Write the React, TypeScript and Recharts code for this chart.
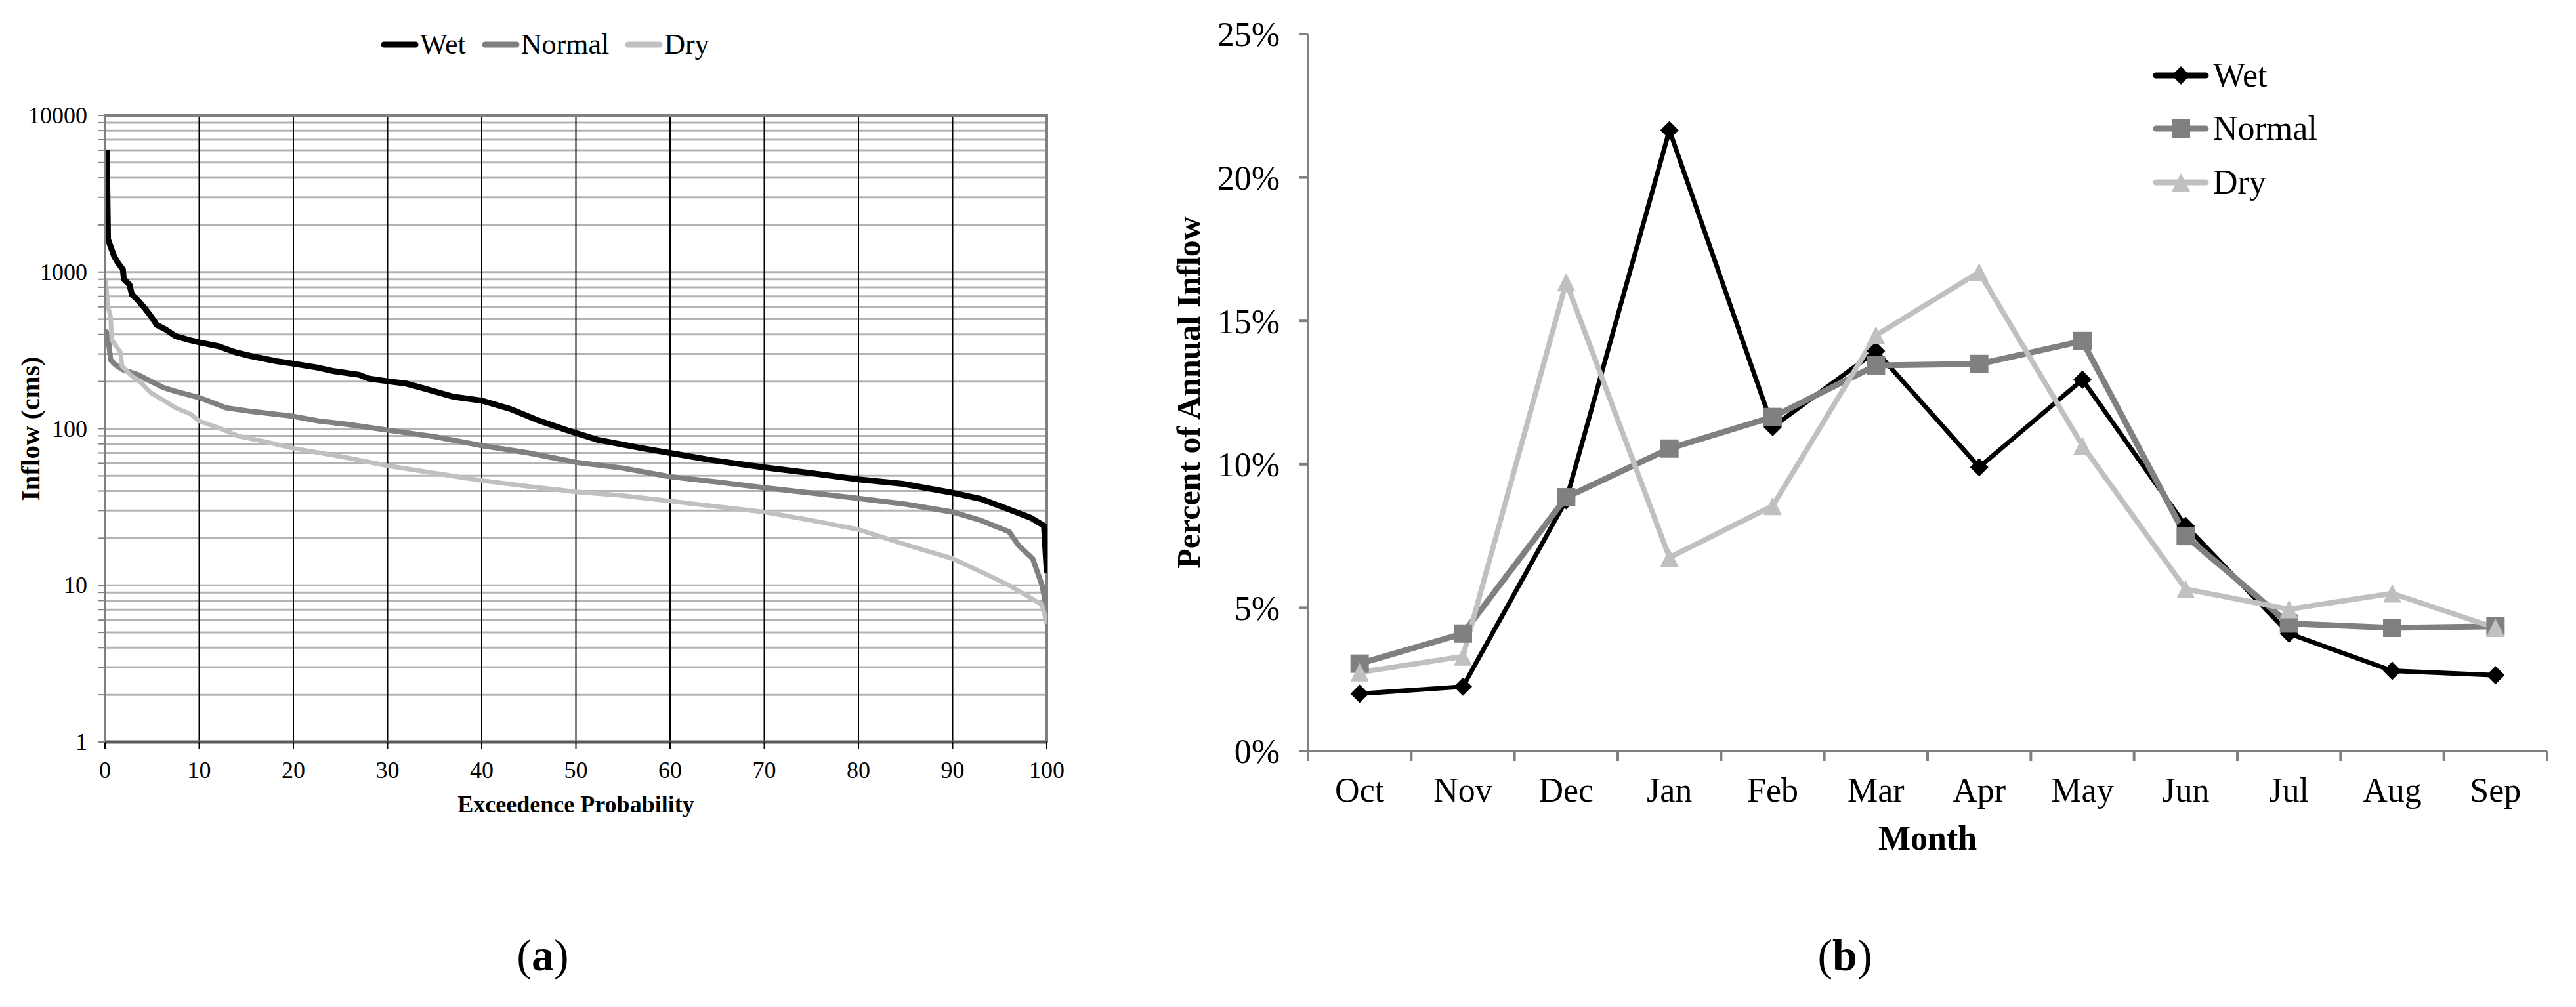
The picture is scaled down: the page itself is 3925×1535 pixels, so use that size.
import React from 'react';
import { LineChart, Line, XAxis, YAxis, CartesianGrid, ReferenceArea, Legend } from 'recharts';

const FONT = "'Liberation Serif', 'Times New Roman', Times, serif";

// ---------- Panel (a): flow duration curves ----------
const exceedTicks = [0, 10, 20, 30, 40, 50, 60, 70, 80, 90, 100];
const inflowTicks = [
  1, 2, 3, 4, 5, 6, 7, 8, 9,
  10, 20, 30, 40, 50, 60, 70, 80, 90,
  100, 200, 300, 400, 500, 600, 700, 800, 900,
  1000, 2000, 3000, 4000, 5000, 6000, 7000, 8000, 9000,
  10000,
];
const inflowLabels = [1, 10, 100, 1000, 10000];

// [exceedence probability, inflow (cms)]
const wetCurve: [number, number][] = [
  [0.19, 6030], [0.32, 1620], [0.6, 1450], [1.0, 1250], [1.4, 1140], [1.9, 1040], [2.0, 900],
  [2.6, 830], [2.85, 720], [3.4, 670], [4.2, 590], [4.85, 525], [5.5, 460], [6.45, 430],
  [7.5, 390], [8.85, 370], [10, 356], [12, 337], [13.9, 307], [15.5, 291], [18.2, 270],
  [20, 260], [22.5, 246], [24.3, 233], [27, 221], [28, 209], [30, 201], [32, 194], [34, 180],
  [37, 160], [40, 151], [43, 134], [46, 113], [49, 98], [52.3, 85], [56.8, 75.5], [60, 70],
  [64.4, 63], [70, 56.6], [75, 52], [80, 47.5], [84.7, 44.5], [90, 39], [93, 35.6], [96, 30.5],
  [98.3, 27], [99.7, 24], [100, 12],
];
const normalCurve: [number, number][] = [
  [0.05, 429], [0.32, 384], [0.6, 275], [1.1, 256], [1.9, 238], [3.5, 221], [4.85, 201],
  [6.2, 183], [7.5, 173], [10, 158], [11.8, 144], [12.85, 136], [15.5, 129], [20, 120],
  [22.7, 112], [26.1, 106], [30, 98], [35, 89], [40, 78], [45, 70], [50, 61], [55, 56],
  [60, 49.4], [65, 45.7], [70, 42], [75, 38.9], [80, 35.9], [85, 33], [90, 29.4], [93, 26],
  [96, 22], [97, 18], [98.5, 14.8], [99.5, 10], [100, 7],
];
const dryCurve: [number, number][] = [
  [0.05, 915], [0.32, 600], [0.6, 516], [0.72, 370], [1.65, 307], [1.8, 251], [2.7, 221],
  [3.8, 197], [4.85, 170], [6.2, 152], [7.5, 136], [9.1, 124], [10, 112], [12.3, 100],
  [14.2, 89.5], [16.9, 83], [20, 75], [25, 66.5], [30, 58], [35, 52], [40, 46.7], [45, 42.8],
  [50, 39.5], [55, 37.4], [60, 34.5], [65, 31.8], [70, 29.4], [75, 26], [80, 22.7], [85, 18.2],
  [90, 14.8], [93, 12.2], [96, 10], [98, 8.5], [99.5, 7.5], [100, 5.7],
];

// ---------- Panel (b): monthly distribution ----------
const months = ['Oct', 'Nov', 'Dec', 'Jan', 'Feb', 'Mar', 'Apr', 'May', 'Jun', 'Jul', 'Aug', 'Sep'];
const wetPct = [2.0, 2.25, 8.75, 21.65, 11.3, 13.95, 9.9, 12.95, 7.85, 4.1, 2.8, 2.65];
const normalPct = [3.05, 4.1, 8.85, 10.55, 11.65, 13.45, 13.5, 14.3, 7.5, 4.45, 4.3, 4.35];
const dryPct = [2.75, 3.3, 16.35, 6.75, 8.55, 14.5, 16.7, 10.65, 5.65, 4.95, 5.5, 4.3];
const pctTicks = [0, 5, 10, 15, 20, 25];
const monthBounds = [0, 1, 2, 3, 4, 5, 6, 7, 8, 9, 10, 11, 12];

const seriesNames = ['Wet', 'Normal', 'Dry'];
const COLORS: Record<string, string> = { Wet: '#000000', Normal: '#808080', Dry: '#c0c0c0' };

const toPoints = (arr: [number, number][]) => arr.map(([p, q]) => ({ p, q }));
const wetPts = toPoints(wetCurve);
const normalPts = toPoints(normalCurve);
const dryPts = toPoints(dryCurve);

const seasonalData = months.map((m, i) => ({
  slot: i + 0.5,
  month: m,
  wet: wetPct[i],
  normal: normalPct[i],
  dry: dryPct[i],
}));

// ---------- layout constants ----------
const A_W = 1700;
const A_H = 1300;
const B_W = 2225;
const B_H = 1535;
const B_YAXIS_W = 293;
const B_MARGIN_R = 44;
const B_BAND = (B_W - B_YAXIS_W - B_MARGIN_R) / months.length;

const LogTick = (props: any) => {
  const { x, y, payload } = props;
  if (!inflowLabels.includes(payload.value)) return <g />;
  return (
    <text x={x} y={y} dy="0.34em" textAnchor="end" fontSize={36} fontFamily={FONT} fill="#000">
      {payload.value}
    </text>
  );
};

const MonthTick = (props: any) => {
  const { x, y, payload } = props;
  const idx = payload.value;
  if (idx >= months.length) return <g />;
  return (
    <text x={x + B_BAND / 2} y={y} dy={62} textAnchor="middle" fontSize={52} fontFamily={FONT} fill="#000">
      {months[idx]}
    </text>
  );
};

const Diamond = (props: any) => {
  const { cx, cy, fill } = props;
  if (cx == null || cy == null) return <g />;
  const r = 14;
  return <path d={`M${cx},${cy - r}L${cx + r},${cy}L${cx},${cy + r}L${cx - r},${cy}Z`} fill={fill} />;
};
const Square = (props: any) => {
  const { cx, cy, fill } = props;
  if (cx == null || cy == null) return <g />;
  const s = 14;
  return <rect x={cx - s} y={cy - s} width={2 * s} height={2 * s} fill={fill} />;
};
const Triangle = (props: any) => {
  const { cx, cy, fill } = props;
  if (cx == null || cy == null) return <g />;
  const h = 14;
  return <path d={`M${cx},${cy - h}L${cx + h},${cy + h}L${cx - h},${cy + h}Z`} fill={fill} />;
};

const MARKERS: Record<string, any> = { Wet: Diamond, Normal: Square, Dry: Triangle };

const orderPayload = (payload: any[]) =>
  seriesNames
    .map((n) => payload.find((e: any) => e.value === n))
    .filter((e: any) => e != null);

const LegendA = (props: any) => {
  const payload = orderPayload(props.payload || []);
  return (
    <div style={{ display: 'flex', alignItems: 'center', fontFamily: FONT, fontSize: 44, color: '#000' }}>
      {payload.map((e: any) => (
        <div key={e.value} style={{ display: 'flex', alignItems: 'center', marginRight: 24 }}>
          <svg width={58} height={14} style={{ display: 'block' }}>
            <line x1={5} y1={7} x2={53} y2={7} stroke={COLORS[e.value]} strokeWidth={9} strokeLinecap="round" />
          </svg>
          <span style={{ marginLeft: 2, lineHeight: 1 }}>{e.value}</span>
        </div>
      ))}
    </div>
  );
};

const LegendB = (props: any) => {
  const payload = orderPayload(props.payload || []);
  return (
    <div style={{ fontFamily: FONT, fontSize: 52, color: '#000' }}>
      {payload.map((e: any) => {
        const M = MARKERS[e.value];
        const c = COLORS[e.value];
        return (
          <div key={e.value} style={{ display: 'flex', alignItems: 'center', height: 81.5 }}>
            <svg width={86} height={40} style={{ display: 'block' }}>
              <line x1={5} y1={20} x2={81} y2={20} stroke={c} strokeWidth={9} strokeLinecap="round" />
              <M cx={43} cy={20} fill={c} />
            </svg>
            <span style={{ marginLeft: 6, lineHeight: 1 }}>{e.value}</span>
          </div>
        );
      })}
    </div>
  );
};

const yTitleA = (props: any) => {
  const vb = props.viewBox || { x: 0, y: 176, width: 160, height: 955 };
  const cx = vb.x + 46;
  const cy = vb.y + vb.height / 2;
  return (
    <text
      transform={`translate(${cx},${cy}) rotate(-90)`}
      textAnchor="middle"
      dy="0.35em"
      fontSize={41}
      fontWeight="bold"
      fontFamily={FONT}
      fill="#000"
    >
      Inflow (cms)
    </text>
  );
};

const yTitleB = (props: any) => {
  const vb = props.viewBox || { x: 0, y: 52, width: B_YAXIS_W, height: 1093 };
  const cx = vb.x + 110;
  const cy = vb.y + vb.height / 2;
  return (
    <text
      transform={`translate(${cx},${cy}) rotate(-90)`}
      textAnchor="middle"
      dy="0.35em"
      fontSize={50}
      fontWeight="bold"
      fontFamily={FONT}
      fill="#000"
    >
      Percent of Annual Inflow
    </text>
  );
};

const dotFor = (Shape: any, color: string, prefix: string) => (props: any) => (
  <Shape key={`${prefix}-${props.index}`} cx={props.cx} cy={props.cy} fill={color} />
);

export default function App() {
  return (
    <div
      style={{
        position: 'absolute',
        left: 0,
        top: 0,
        width: 3925,
        height: 1535,
        background: '#fff',
        overflow: 'hidden',
        fontFamily: FONT,
      }}
    >
      <div style={{ position: 'absolute', left: 0, top: 0 }}>
        <LineChart width={A_W} height={A_H} margin={{ top: 176, right: 105, bottom: 62, left: 0 }}>
          <CartesianGrid vertical={false} stroke="#b3b3b3" strokeWidth={3} />
          <CartesianGrid horizontal={false} stroke="#000" strokeWidth={2} />
          <XAxis
            type="number"
            dataKey="p"
            domain={[0, 100]}
            ticks={exceedTicks}
            interval={0}
            allowDataOverflow
            height={107}
            tickSize={11}
            tickMargin={18}
            tickLine={{ stroke: '#000', strokeWidth: 2 }}
            axisLine={{ stroke: '#5a5a5a', strokeWidth: 5 }}
            tick={{ fontSize: 36, fill: '#000', fontFamily: FONT }}
            label={{
              value: 'Exceedence Probability',
              position: 'insideBottom',
              offset: 0,
              fontSize: 36,
              fontWeight: 'bold',
              fill: '#000',
              fontFamily: FONT,
            }}
          />
          <YAxis
            type="number"
            scale="log"
            domain={[1, 10000]}
            ticks={inflowTicks}
            interval={0}
            allowDataOverflow
            width={160}
            tickSize={11}
            tickMargin={16}
            tickLine={{ stroke: '#808080', strokeWidth: 2 }}
            axisLine={{ stroke: '#808080', strokeWidth: 4 }}
            tick={<LogTick />}
            label={yTitleA}
          />
          <ReferenceArea
            x1={0}
            x2={100}
            y1={1}
            y2={10000}
            fill="none"
            stroke="#808080"
            strokeWidth={4}
            ifOverflow="visible"
          />
          <Line data={wetPts} dataKey="q" name="Wet" stroke={COLORS.Wet} strokeWidth={9} dot={false} activeDot={false} isAnimationActive={false} />
          <Line data={normalPts} dataKey="q" name="Normal" stroke={COLORS.Normal} strokeWidth={8} dot={false} activeDot={false} isAnimationActive={false} />
          <Line data={dryPts} dataKey="q" name="Dry" stroke={COLORS.Dry} strokeWidth={7} dot={false} activeDot={false} isAnimationActive={false} />
          <Legend
            layout="horizontal"
            verticalAlign="middle"
            align="center"
            content={<LegendA />}
            wrapperStyle={{ left: 580, top: 46, width: 700, height: 48 }}
          />
        </LineChart>
      </div>

      <div style={{ position: 'absolute', left: 3925 - B_W, top: 0 }}>
        <LineChart
          width={B_W}
          height={B_H}
          data={seasonalData}
          margin={{ top: 52, right: B_MARGIN_R, bottom: 240, left: 0 }}
        >
          <XAxis
            type="number"
            dataKey="slot"
            domain={[0, 12]}
            ticks={monthBounds}
            interval={0}
            allowDataOverflow
            height={150}
            tickSize={15}
            tickMargin={0}
            tickLine={{ stroke: '#808080', strokeWidth: 4 }}
            axisLine={{ stroke: '#808080', strokeWidth: 4 }}
            tick={<MonthTick />}
            label={{
              value: 'Month',
              position: 'insideBottom',
              offset: 0,
              fontSize: 52,
              fontWeight: 'bold',
              fill: '#000',
              fontFamily: FONT,
            }}
          />
          <YAxis
            type="number"
            domain={[0, 25]}
            ticks={pctTicks}
            interval={0}
            allowDataOverflow
            width={B_YAXIS_W}
            tickSize={14}
            tickMargin={29}
            tickLine={{ stroke: '#808080', strokeWidth: 4 }}
            axisLine={{ stroke: '#808080', strokeWidth: 4 }}
            tickFormatter={(v: number) => `${v}%`}
            tick={{ fontSize: 52, fill: '#000', fontFamily: FONT }}
            label={yTitleB}
          />
          <Line
            dataKey="wet"
            name="Wet"
            stroke={COLORS.Wet}
            strokeWidth={7}
            dot={dotFor(Diamond, COLORS.Wet, 'w')}
            activeDot={false}
            isAnimationActive={false}
          />
          <Line
            dataKey="normal"
            name="Normal"
            stroke={COLORS.Normal}
            strokeWidth={9}
            dot={dotFor(Square, COLORS.Normal, 'n')}
            activeDot={false}
            isAnimationActive={false}
          />
          <Line
            dataKey="dry"
            name="Dry"
            stroke={COLORS.Dry}
            strokeWidth={8}
            dot={dotFor(Triangle, COLORS.Dry, 'd')}
            activeDot={false}
            isAnimationActive={false}
          />
          <Legend
            layout="horizontal"
            verticalAlign="middle"
            align="center"
            content={<LegendB />}
            wrapperStyle={{ left: 3280 - (3925 - B_W), top: 74, width: 400, height: 250 }}
          />
        </LineChart>
      </div>

      <div
        style={{
          position: 'absolute',
          left: 827,
          top: 1456,
          transform: 'translate(-50%, -50%)',
          fontSize: 68,
          lineHeight: 1,
          whiteSpace: 'nowrap',
          fontFamily: FONT,
          color: '#000',
        }}
      >
        (<b>a</b>)
      </div>
      <div
        style={{
          position: 'absolute',
          left: 2811,
          top: 1456,
          transform: 'translate(-50%, -50%)',
          fontSize: 68,
          lineHeight: 1,
          whiteSpace: 'nowrap',
          fontFamily: FONT,
          color: '#000',
        }}
      >
        (<b>b</b>)
      </div>
    </div>
  );
}
